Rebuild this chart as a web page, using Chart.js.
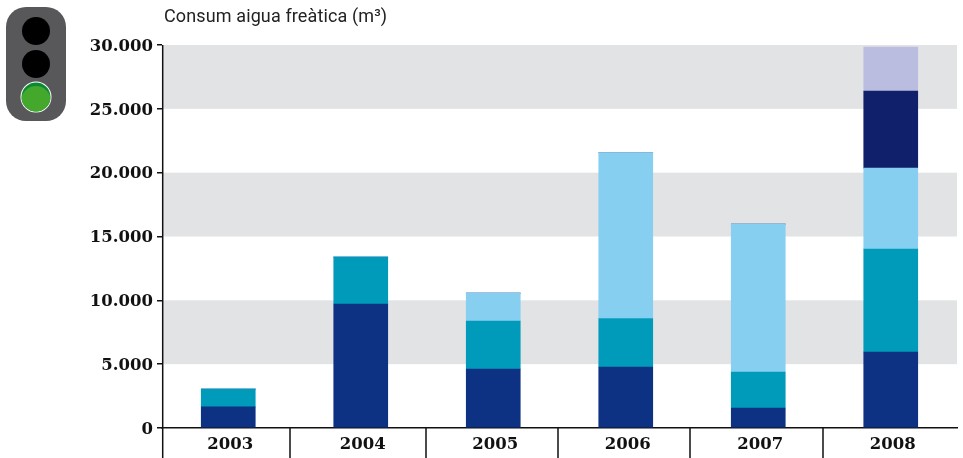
<!DOCTYPE html>
<html lang="ca">
<head>
    <meta charset="UTF-8">
    <title>Consum aigua freàtica</title>
    <script src="https://cdn.jsdelivr.net/npm/chart.js"></script>
    <style>
        body { margin: 0; background: #fff; }
        canvas { display: block; }
    </style>
</head>
<body>
    <canvas id="chart" width="963" height="458"></canvas>
    <script>
        const years = ['2003', '2004', '2005', '2006', '2007', '2008'];
        const serie1 = [1650, 9710, 4620, 4780, 1570, 5950];
        const serie2 = [1400, 3680, 3760, 3800, 2815, 8070];
        const serie3 = [0, 0, 2190, 13000, 11590, 6340];
        const serie4 = [0, 0, 0, 0, 0, 6030];
        const serie5 = [0, 0, 0, 0, 0, 3450];
        const yTicks = [0, 5000, 10000, 15000, 20000, 25000, 30000];
        const bands = [[25000, 30000], [15000, 20000], [5000, 10000]];
        const chartTitle = 'Consum aigua freàtica (m³)';

        const serifFont = '"DejaVu Serif", serif';

        // grey bands behind the bars
        const bandsPlugin = {
            id: 'bands',
            beforeDatasetsDraw(chart) {
                const { ctx, chartArea, scales } = chart;
                ctx.save();
                ctx.fillStyle = '#e2e3e5';
                bands.forEach(b => {
                    const top = scales.y.getPixelForValue(b[1]);
                    const bottom = scales.y.getPixelForValue(b[0]);
                    ctx.fillRect(chartArea.left + 1, top, chartArea.right - chartArea.left - 1, bottom - top);
                });
                ctx.restore();
            }
        };

        // y axis line and the separators under the x axis, not evenly spaced in the original
        const separators = [290, 426, 558, 690, 823];
        const axisX = 162.7;
        const separatorsPlugin = {
            id: 'separators',
            afterDraw(chart) {
                const { ctx, chartArea } = chart;
                ctx.save();
                ctx.strokeStyle = '#111';
                ctx.lineWidth = 1.5;
                ctx.beginPath();
                ctx.moveTo(axisX, chartArea.top);
                ctx.lineTo(axisX, 458);
                separators.forEach(x => {
                    ctx.moveTo(x, chartArea.bottom);
                    ctx.lineTo(x, 458);
                });
                ctx.stroke();
                ctx.restore();
            }
        };

        // chart title, drawn by hand so it can sit just right of the axis
        const titlePlugin = {
            id: 'chartTitle',
            afterDraw(chart) {
                const ctx = chart.ctx;
                ctx.save();
                ctx.fillStyle = '#222';
                ctx.font = '18px Roboto, sans-serif';
                ctx.letterSpacing = '0.12px';
                ctx.textBaseline = 'alphabetic';
                ctx.fillText(chartTitle, 164, 22);
                ctx.restore();
            }
        };

        // traffic light icon at the top left
        const lightPlugin = {
            id: 'light',
            afterDraw(chart) {
                const ctx = chart.ctx;
                const circle = (x, y, r, color) => {
                    ctx.fillStyle = color;
                    ctx.beginPath();
                    ctx.arc(x, y, r, 0, Math.PI * 2);
                    ctx.fill();
                };
                ctx.save();
                ctx.fillStyle = '#58585a';
                ctx.beginPath();
                ctx.roundRect(6, 7, 60, 114, 20);
                ctx.fill();
                circle(36, 31, 14, '#000');
                circle(36, 64, 14, '#000');
                circle(36, 97, 15.5, '#fff');
                circle(36, 97, 14.5, '#0a8a35');
                ctx.beginPath();
                ctx.arc(36, 97, 14.5, 0, Math.PI * 2);
                ctx.clip();
                circle(36, 101, 15, '#44a82c');
                ctx.restore();
            }
        };

        const makeSet = (label, values, color) => ({
            label: label,
            data: values,
            backgroundColor: color,
            barThickness: 54,
            borderWidth: 0
        });

        new Chart(document.getElementById('chart'), {
            type: 'bar',
            data: {
                labels: years,
                datasets: [
                    makeSet('Sèrie 1', serie1, '#0d3183'),
                    makeSet('Sèrie 2', serie2, '#009bbb'),
                    makeSet('Sèrie 3', serie3, '#87cff1'),
                    makeSet('Sèrie 4', serie4, '#10206b'),
                    makeSet('Sèrie 5', serie5, '#babde0')
                ]
            },
            options: {
                responsive: false,
                animation: false,
                layout: { padding: { left: 0, right: 6, top: 45, bottom: 0 } },
                plugins: {
                    legend: { display: false },
                    tooltip: { enabled: false },
                    title: { display: false }
                },
                scales: {
                    x: {
                        stacked: true,
                        afterFit(axis) { axis.height = 30; },
                        grid: { display: false },
                        border: { color: '#111', width: 1.5 },
                        ticks: {
                            color: '#111',
                            padding: -1,
                            labelOffset: 2,
                            maxRotation: 0,
                            font: { family: serifFont, size: 16.5, weight: 'bold' }
                        }
                    },
                    y: {
                        stacked: true,
                        min: 0,
                        max: 30000,
                        afterFit(axis) { axis.width = 162; },
                        afterBuildTicks(axis) { axis.ticks = yTicks.map(v => ({ value: v })); },
                        grid: { drawOnChartArea: false, color: '#111', tickLength: 5, lineWidth: 1.5 },
                        border: { display: false },
                        ticks: {
                            color: '#111',
                            padding: 4,
                            labelOffset: 1.5,
                            font: { family: serifFont, size: 16.5, weight: 'bold' },
                            callback: v => String(v).replace(/\B(?=(\d{3})+$)/g, '.')
                        }
                    }
                }
            },
            plugins: [bandsPlugin, separatorsPlugin, titlePlugin, lightPlugin]
        });
    </script>
</body>
</html>
